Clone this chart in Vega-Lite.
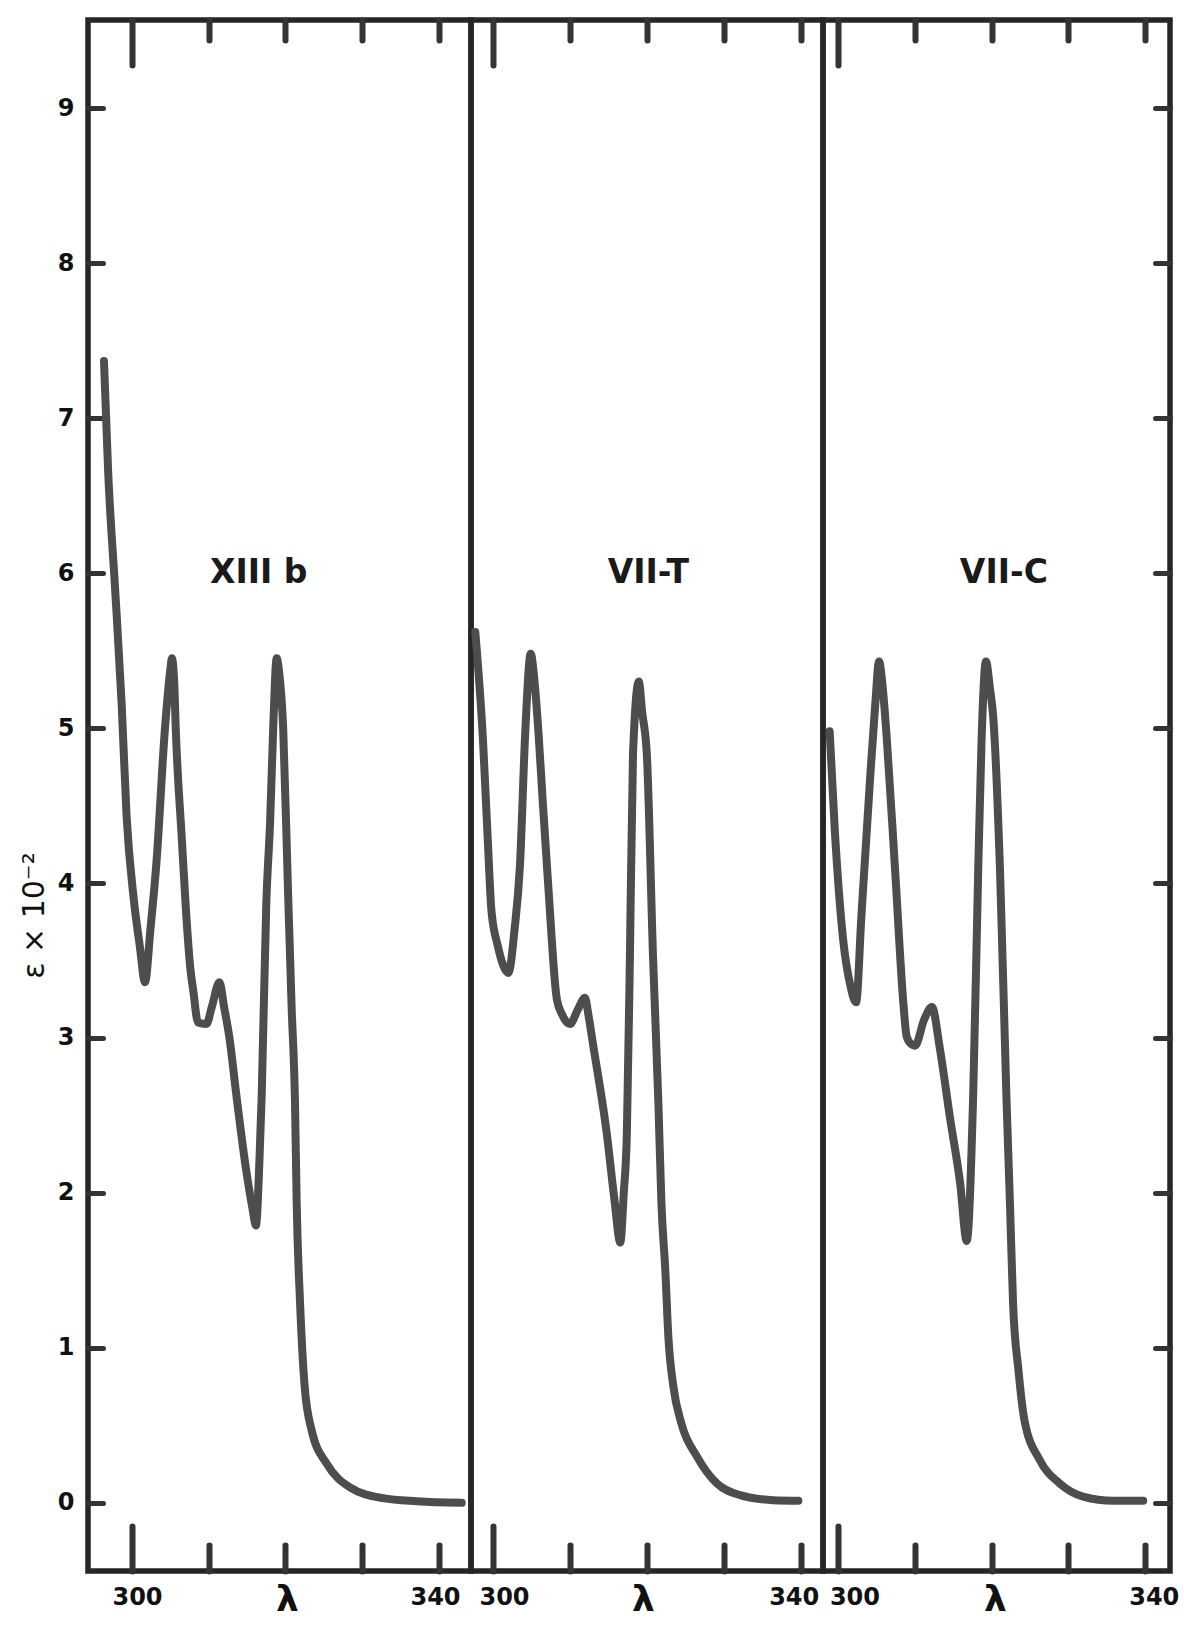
{
  "$schema": "https://vega.github.io/schema/vega-lite/v6.json",
  "background": "white",
  "padding": {"left": 16, "top": 14, "right": 5, "bottom": 0},
  "spacing": 0,
  "bounds": "flush",
  "config": {
    "view": {"stroke": "#262626", "strokeWidth": 5.5},
    "axis": {
      "grid": false,
      "domain": false,
      "tickColor": "#333333",
      "tickWidth": 6,
      "tickCap": "round",
      "labelFont": "DejaVu Sans",
      "labelFontSize": 24,
      "labelFontWeight": "bold",
      "labelColor": "#111111",
      "titleFont": "DejaVu Sans",
      "titleColor": "#111111"
    }
  },
  "datasets": {
    "xiiib": [
      {"lambda": 296.35, "eps": 7.37}, {"lambda": 296.9, "eps": 6.65}, {"lambda": 297.8, "eps": 5.9},
      {"lambda": 298.66, "eps": 5.15}, {"lambda": 299.3, "eps": 4.43}, {"lambda": 300.2, "eps": 3.91},
      {"lambda": 301.0, "eps": 3.6}, {"lambda": 301.7, "eps": 3.36}, {"lambda": 302.4, "eps": 3.7},
      {"lambda": 303.2, "eps": 4.14}, {"lambda": 304.3, "eps": 5.0}, {"lambda": 305.0, "eps": 5.38},
      {"lambda": 305.2, "eps": 5.45}, {"lambda": 305.5, "eps": 5.3}, {"lambda": 305.7, "eps": 5.0},
      {"lambda": 306.5, "eps": 4.28}, {"lambda": 307.0, "eps": 3.85}, {"lambda": 307.6, "eps": 3.45},
      {"lambda": 308.0, "eps": 3.3}, {"lambda": 308.6, "eps": 3.1}, {"lambda": 309.7, "eps": 3.09},
      {"lambda": 310.4, "eps": 3.2}, {"lambda": 311.4, "eps": 3.36}, {"lambda": 312.0, "eps": 3.2},
      {"lambda": 312.7, "eps": 3.0}, {"lambda": 313.6, "eps": 2.63}, {"lambda": 314.9, "eps": 2.14},
      {"lambda": 315.7, "eps": 1.9}, {"lambda": 316.15, "eps": 1.79}, {"lambda": 316.6, "eps": 2.2},
      {"lambda": 316.9, "eps": 2.63}, {"lambda": 317.5, "eps": 3.87}, {"lambda": 318.0, "eps": 4.4},
      {"lambda": 318.4, "eps": 5.0}, {"lambda": 318.85, "eps": 5.45}, {"lambda": 319.2, "eps": 5.35},
      {"lambda": 319.7, "eps": 5.0}, {"lambda": 320.3, "eps": 4.0}, {"lambda": 320.8, "eps": 3.2},
      {"lambda": 321.24, "eps": 2.58}, {"lambda": 321.46, "eps": 1.93}, {"lambda": 321.9, "eps": 1.29},
      {"lambda": 322.5, "eps": 0.75}, {"lambda": 323.4, "eps": 0.47}, {"lambda": 325.4, "eps": 0.25},
      {"lambda": 328.4, "eps": 0.1}, {"lambda": 332.7, "eps": 0.03}, {"lambda": 337.1, "eps": 0.01},
      {"lambda": 342.96, "eps": 0.0}
    ],
    "viit": [
      {"lambda": 297.7, "eps": 5.62}, {"lambda": 298.7, "eps": 4.92}, {"lambda": 299.3, "eps": 4.3},
      {"lambda": 299.8, "eps": 3.82}, {"lambda": 300.6, "eps": 3.6}, {"lambda": 302.0, "eps": 3.42},
      {"lambda": 302.8, "eps": 3.7}, {"lambda": 303.5, "eps": 4.11}, {"lambda": 304.2, "eps": 4.98},
      {"lambda": 304.9, "eps": 5.48}, {"lambda": 305.4, "eps": 5.3}, {"lambda": 305.9, "eps": 4.98},
      {"lambda": 306.5, "eps": 4.5}, {"lambda": 307.2, "eps": 3.97}, {"lambda": 308.3, "eps": 3.25},
      {"lambda": 309.0, "eps": 3.15}, {"lambda": 310.0, "eps": 3.09}, {"lambda": 311.0, "eps": 3.18},
      {"lambda": 311.96, "eps": 3.26}, {"lambda": 312.4, "eps": 3.15}, {"lambda": 313.0, "eps": 2.96},
      {"lambda": 314.8, "eps": 2.38}, {"lambda": 315.8, "eps": 1.95}, {"lambda": 316.55, "eps": 1.68},
      {"lambda": 317.0, "eps": 2.0}, {"lambda": 317.4, "eps": 2.38}, {"lambda": 317.8, "eps": 3.53},
      {"lambda": 318.2, "eps": 4.83}, {"lambda": 318.95, "eps": 5.3}, {"lambda": 319.4, "eps": 5.1},
      {"lambda": 320.0, "eps": 4.83}, {"lambda": 320.8, "eps": 3.53}, {"lambda": 321.5, "eps": 2.58},
      {"lambda": 321.9, "eps": 1.93}, {"lambda": 322.4, "eps": 1.5}, {"lambda": 322.8, "eps": 1.07},
      {"lambda": 323.45, "eps": 0.75}, {"lambda": 324.5, "eps": 0.51}, {"lambda": 326.5, "eps": 0.3},
      {"lambda": 329.1, "eps": 0.125}, {"lambda": 332.1, "eps": 0.05}, {"lambda": 336.45, "eps": 0.017},
      {"lambda": 339.7, "eps": 0.013}
    ],
    "viic": [
      {"lambda": 298.85, "eps": 4.98}, {"lambda": 299.5, "eps": 4.36}, {"lambda": 300.6, "eps": 3.64},
      {"lambda": 301.5, "eps": 3.35}, {"lambda": 302.3, "eps": 3.23}, {"lambda": 303.0, "eps": 3.79},
      {"lambda": 304.1, "eps": 4.65}, {"lambda": 304.8, "eps": 5.15}, {"lambda": 305.3, "eps": 5.43},
      {"lambda": 305.8, "eps": 5.25}, {"lambda": 306.3, "eps": 4.94}, {"lambda": 307.4, "eps": 4.08},
      {"lambda": 308.5, "eps": 3.21}, {"lambda": 308.9, "eps": 3.01}, {"lambda": 309.5, "eps": 2.96},
      {"lambda": 310.0, "eps": 2.95}, {"lambda": 311.2, "eps": 3.12}, {"lambda": 312.2, "eps": 3.2},
      {"lambda": 313.25, "eps": 2.93}, {"lambda": 314.55, "eps": 2.49}, {"lambda": 315.9, "eps": 2.06},
      {"lambda": 316.75, "eps": 1.69}, {"lambda": 317.6, "eps": 2.64}, {"lambda": 318.25, "eps": 4.08},
      {"lambda": 318.7, "eps": 4.94}, {"lambda": 319.26, "eps": 5.43}, {"lambda": 319.8, "eps": 5.25},
      {"lambda": 320.2, "eps": 5.08}, {"lambda": 321.1, "eps": 4.08}, {"lambda": 321.96, "eps": 2.58},
      {"lambda": 322.4, "eps": 1.93}, {"lambda": 322.8, "eps": 1.29}, {"lambda": 323.5, "eps": 0.86},
      {"lambda": 324.3, "eps": 0.53}, {"lambda": 326.3, "eps": 0.275}, {"lambda": 328.9, "eps": 0.125},
      {"lambda": 331.96, "eps": 0.04}, {"lambda": 335.9, "eps": 0.013}, {"lambda": 339.8, "eps": 0.013}
    ],
    "labels1": [{"lambda": 316.5, "eps": 6.0, "label": "XIII b"}],
    "labels2": [{"lambda": 320.2, "eps": 6.0, "label": "VII-T"}],
    "labels3": [{"lambda": 321.6, "eps": 6.0, "label": "VII-C"}]
  },
  "hconcat": [
    {
      "width": 383,
      "height": 1551,
      "resolve": {"axis": {"x": "independent", "y": "independent"}},
      "layer": [
        {
          "data": {"name": "xiiib"},
          "mark": {"type": "line", "color": "#4d4d4d", "strokeWidth": 8, "strokeCap": "round", "strokeJoin": "round", "interpolate": "monotone"},
          "encoding": {
            "x": {"field": "lambda", "type": "quantitative",
              "scale": {"domain": [294.27, 344.17], "nice": false, "zero": false},
              "axis": {"orient": "bottom", "values": [300, 310, 320, 330, 340],
                "tickSize": {"condition": {"test": "datum.value === 300", "value": -45}, "value": -26},
                "labelPadding": {"condition": {"test": "datum.value === 300", "value": 59}, "value": 40},
                "labelOffset": {"condition": {"test": "datum.value === 300", "value": 5}, "value": -4},
                "labelExpr": "datum.value === 300 || datum.value === 340 ? datum.label : ''",
                "title": "λ", "titleFontSize": 36, "titleFontWeight": "bold", "titleX": 199, "titleY": 39, "titleBaseline": "alphabetic"}},
            "y": {"field": "eps", "type": "quantitative",
              "scale": {"domain": [-0.44, 9.57], "nice": false, "zero": false},
              "axis": {"orient": "left", "values": [0, 1, 2, 3, 4, 5, 6, 7, 8, 9], "tickSize": -15, "tickWidth": 5,
                "labelPadding": 29,
                "title": "ε × 10⁻²", "titleFontSize": 30, "titleFontWeight": "normal", "titlePadding": 8,
                "titleY": 895, "titleAlign": "center"}}
          }
        },
        {
          "data": {"name": "labels1"},
          "mark": {"type": "text", "font": "DejaVu Sans", "fontSize": 33, "fontWeight": "bold", "color": "#1a1a1a", "align": "center", "baseline": "middle"},
          "encoding": {
            "x": {"field": "lambda", "type": "quantitative",
              "scale": {"domain": [294.27, 344.17], "nice": false, "zero": false},
              "axis": {"orient": "top", "values": [300, 310, 320, 330, 340], "labels": false, "title": null,
                "tickSize": {"condition": {"test": "datum.value === 300", "value": -45}, "value": -20}}},
            "y": {"field": "eps", "type": "quantitative", "scale": {"domain": [-0.44, 9.57], "nice": false, "zero": false}, "axis": null},
            "text": {"field": "label"}
          }
        }
      ]
    },
    {
      "width": 352,
      "height": 1551,
      "resolve": {"axis": {"x": "independent", "y": "independent"}},
      "layer": [
        {
          "data": {"name": "viit"},
          "mark": {"type": "line", "color": "#4d4d4d", "strokeWidth": 8, "strokeCap": "round", "strokeJoin": "round", "interpolate": "monotone"},
          "encoding": {
            "x": {"field": "lambda", "type": "quantitative",
              "scale": {"domain": [297.14, 342.9], "nice": false, "zero": false},
              "axis": {"orient": "bottom", "values": [300, 310, 320, 330, 340],
                "tickSize": {"condition": {"test": "datum.value === 300", "value": -45}, "value": -26},
                "labelPadding": {"condition": {"test": "datum.value === 300", "value": 59}, "value": 40},
                "labelOffset": {"condition": {"test": "datum.value === 300", "value": 11}, "value": -7},
                "labelExpr": "datum.value === 300 || datum.value === 340 ? datum.label : ''",
                "title": "λ", "titleFontSize": 36, "titleFontWeight": "bold", "titleX": 172, "titleY": 39, "titleBaseline": "alphabetic"}},
            "y": {"field": "eps", "type": "quantitative",
              "scale": {"domain": [-0.44, 9.57], "nice": false, "zero": false}, "axis": null}
          }
        },
        {
          "data": {"name": "labels2"},
          "mark": {"type": "text", "font": "DejaVu Sans", "fontSize": 33, "fontWeight": "bold", "color": "#1a1a1a", "align": "center", "baseline": "middle"},
          "encoding": {
            "x": {"field": "lambda", "type": "quantitative",
              "scale": {"domain": [297.14, 342.9], "nice": false, "zero": false},
              "axis": {"orient": "top", "values": [300, 310, 320, 330, 340], "labels": false, "title": null,
                "tickSize": {"condition": {"test": "datum.value === 300", "value": -45}, "value": -20}}},
            "y": {"field": "eps", "type": "quantitative", "scale": {"domain": [-0.44, 9.57], "nice": false, "zero": false}, "axis": null},
            "text": {"field": "label"}
          }
        }
      ]
    },
    {
      "width": 347,
      "height": 1551,
      "resolve": {"axis": {"x": "independent", "y": "independent"}},
      "layer": [
        {
          "data": {"name": "viic"},
          "mark": {"type": "line", "color": "#4d4d4d", "strokeWidth": 8, "strokeCap": "round", "strokeJoin": "round", "interpolate": "monotone"},
          "encoding": {
            "x": {"field": "lambda", "type": "quantitative",
              "scale": {"domain": [297.98, 343.3], "nice": false, "zero": false},
              "axis": {"orient": "bottom", "values": [300, 310, 320, 330, 340],
                "tickSize": {"condition": {"test": "datum.value === 300", "value": -45}, "value": -26},
                "labelPadding": {"condition": {"test": "datum.value === 300", "value": 59}, "value": 40},
                "labelOffset": {"condition": {"test": "datum.value === 300", "value": 16}, "value": 9},
                "labelExpr": "datum.value === 300 || datum.value === 340 ? datum.label : ''",
                "title": "λ", "titleFontSize": 36, "titleFontWeight": "bold", "titleX": 172, "titleY": 39, "titleBaseline": "alphabetic"}},
            "y": {"field": "eps", "type": "quantitative",
              "scale": {"domain": [-0.44, 9.57], "nice": false, "zero": false},
              "axis": {"orient": "right", "values": [0, 1, 2, 3, 4, 5, 6, 7, 8, 9], "tickSize": -15, "tickWidth": 5,
                "labels": false, "title": null}}
          }
        },
        {
          "data": {"name": "labels3"},
          "mark": {"type": "text", "font": "DejaVu Sans", "fontSize": 33, "fontWeight": "bold", "color": "#1a1a1a", "align": "center", "baseline": "middle"},
          "encoding": {
            "x": {"field": "lambda", "type": "quantitative",
              "scale": {"domain": [297.98, 343.3], "nice": false, "zero": false},
              "axis": {"orient": "top", "values": [300, 310, 320, 330, 340], "labels": false, "title": null,
                "tickSize": {"condition": {"test": "datum.value === 300", "value": -45}, "value": -20}}},
            "y": {"field": "eps", "type": "quantitative", "scale": {"domain": [-0.44, 9.57], "nice": false, "zero": false}, "axis": null},
            "text": {"field": "label"}
          }
        }
      ]
    }
  ]
}
